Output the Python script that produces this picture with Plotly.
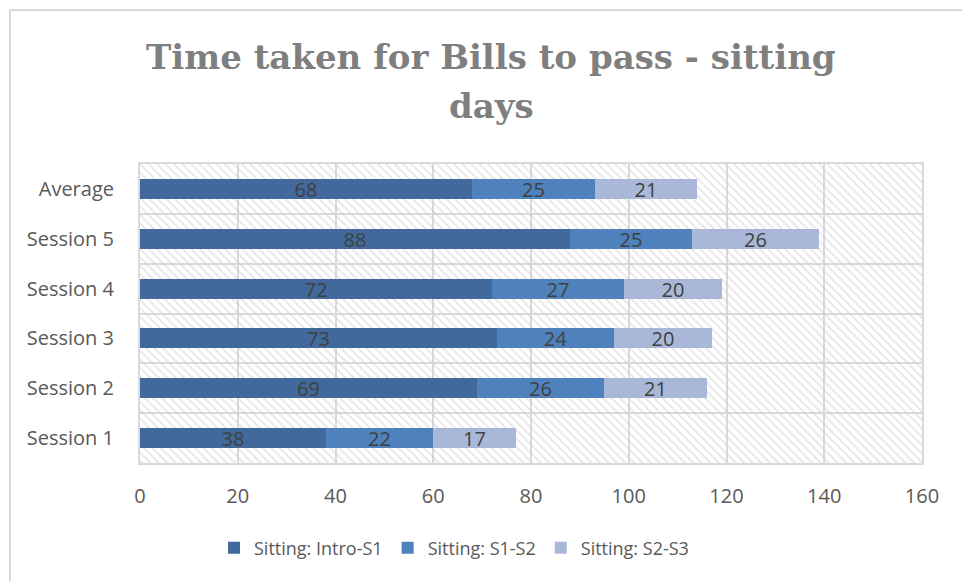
import plotly.graph_objects as go

# Categories (bottom to top) and the three sitting-day stages
categories = ["Session 1", "Session 2", "Session 3", "Session 4", "Session 5", "Average"]
intro_s1 = [38, 69, 73, 72, 88, 68]
s1_s2 = [22, 26, 24, 27, 25, 25]
s2_s3 = [17, 21, 20, 20, 26, 21]
series_names = ["Sitting: Intro-S1", "Sitting: S1-S2", "Sitting: S2-S3"]
x_ticks = [0, 20, 40, 60, 80, 100, 120, 140, 160]
title_lines = ["Time taken for Bills to pass - sitting", "days"]

colors = ["#41699b", "#4f81bd", "#a9b8d8"]
grid = "#d9d9d9"

# plot-area pixel box, used to place paper-referenced items
L, R, T, B = 140, 922, 164, 463
W, H = R - L, B - T


def px_x(p):
    return (p - L) / W


def px_y(p):
    return (B - p) / H


fig = go.Figure()

# Hatched plot-area background: one full-height band per category
fig.add_trace(go.Bar(
    y=categories, x=[x_ticks[-1]] * len(categories), orientation="h",
    width=1, base=0, showlegend=False, hoverinfo="skip",
    marker=dict(color="rgba(0,0,0,0)", line=dict(width=0),
                pattern=dict(shape="\\", fgcolor="#cccccc", bgcolor="rgba(0,0,0,0)",
                             size=6, solidity=0.3)),
))

# Stacked segments, each starting where the previous ends
bases = [0] * len(categories)
for name, vals, col in zip(series_names, [intro_s1, s1_s2, s2_s3], colors):
    fig.add_trace(go.Bar(
        y=categories, x=vals, base=list(bases), orientation="h", name=name,
        width=0.4, marker=dict(color=col, line=dict(width=0)),
        text=[str(v) for v in vals], textposition="inside", insidetextanchor="middle",
        textangle=0, constraintext="none",
        textfont=dict(family="Open Sans", size=20, color="#404040"),
    ))
    bases = [b + v for b, v in zip(bases, vals)]

# Two-line chart title, one annotation per line for Excel-like line spacing
title_font = dict(family="DejaVu Serif", size=34, color="#7f7f7f", weight="bold")
title_annotations = [
    dict(text=line, xref="paper", yref="paper", x=px_x(491), y=px_y(yc),
         xanchor="center", yanchor="middle", showarrow=False, font=title_font)
    for line, yc in zip(title_lines, [57, 106])
]

fig.update_layout(
    width=962, height=581,
    margin=dict(l=L, r=962 - R, t=T, b=581 - B),
    paper_bgcolor="white", plot_bgcolor="white",
    barmode="overlay", bargap=0,
    font=dict(family="Open Sans", color="#595959", size=20),
    legend=dict(orientation="h", x=px_x(454), xanchor="center", y=px_y(548), yanchor="middle",
                font=dict(family="Open Sans", size=18, color="#595959"),
                traceorder="normal", itemwidth=30),
    xaxis=dict(range=[0, 160], tickvals=x_ticks, showgrid=True, gridcolor=grid,
               gridwidth=2, zeroline=False, showline=True, linecolor=grid, linewidth=2,
               mirror=True, ticks="", ticklabelstandoff=14,
               tickfont=dict(size=20, color="#595959")),
    yaxis=dict(type="category", categoryorder="array", categoryarray=categories,
               range=[-0.5, 5.5], tickson="boundaries", showgrid=True, gridcolor=grid,
               gridwidth=2, showline=True, linecolor=grid, linewidth=2, mirror=True,
               ticks="", ticklabelstandoff=20, tickfont=dict(size=20, color="#595959")),
    annotations=title_annotations,
    shapes=[
        dict(type="line", xref="paper", yref="paper", x0=px_x(10), x1=px_x(962),
             y0=px_y(10), y1=px_y(10), line=dict(color=grid, width=2)),
        dict(type="line", xref="paper", yref="paper", x0=px_x(10), x1=px_x(10),
             y0=px_y(10), y1=px_y(581), line=dict(color=grid, width=2)),
    ],
)

fig.write_html("out.html")
